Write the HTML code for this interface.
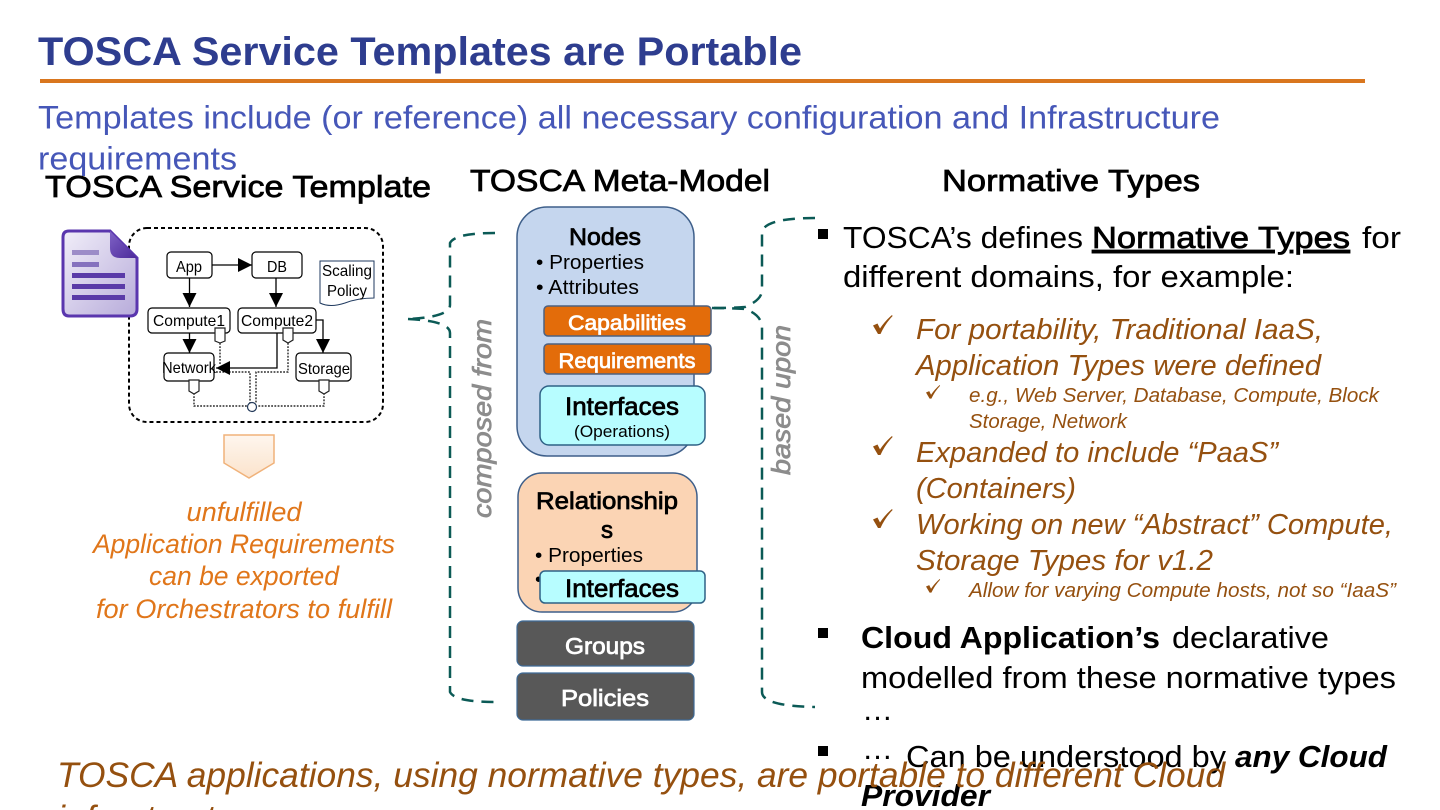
<!DOCTYPE html>
<html lang="en">
<head>
<meta charset="utf-8">
<title>TOSCA Service Templates are Portable</title>
<style>
html,body{margin:0;padding:0;background:#fff;width:1440px;height:810px;overflow:hidden}
svg{display:block}
text{font-family:"Liberation Sans",sans-serif}
.b{font-weight:bold}
.m{font-weight:normal;stroke-width:.75px}
</style>
</head>
<body>
<svg width="1440" height="810" viewBox="0 0 1440 810" xmlns="http://www.w3.org/2000/svg">
<defs>
<marker id="ah" markerUnits="userSpaceOnUse" markerWidth="16" markerHeight="16" refX="14" refY="7" orient="auto"><path d="M0,0L14,7L0,14Z" fill="#000"/></marker>
<linearGradient id="doc" x1="0" y1="0" x2="1" y2="1"><stop offset="0" stop-color="#F1EEF9"/><stop offset="1" stop-color="#B7ABDA"/></linearGradient>
<linearGradient id="fold" x1="0" y1="0" x2="1" y2="1"><stop offset="0" stop-color="#7F62C6"/><stop offset="1" stop-color="#4C2A9A"/></linearGradient>
<linearGradient id="ar" x1="0" y1="0" x2="0" y2="1"><stop offset="0" stop-color="#FEF6EE"/><stop offset="1" stop-color="#FBE3CC"/></linearGradient>
<path id="ck" d="M0,10.5L4.5,8.5L7,13.5Q12,6 19,0L19.6,1Q12,9 7.5,19L5,19Z" fill="#95500F"/>
</defs>

<!-- Header -->
<text x="38" y="65" class="b" font-size="40" fill="#2E3D8F" textLength="764" lengthAdjust="spacingAndGlyphs">TOSCA Service Templates are Portable</text>
<rect x="40" y="79" width="1325" height="4" fill="#D9761E"/>
<text x="38" y="128.5" font-size="32" fill="#4657B8" textLength="1182" lengthAdjust="spacingAndGlyphs">Templates include (or reference) all necessary configuration and Infrastructure</text>
<text x="38" y="169.5" font-size="32" fill="#4657B8" textLength="199" lengthAdjust="spacingAndGlyphs">requirements</text>

<!-- Column headers -->
<text x="45" y="197" class="m" font-size="31" fill="#000" stroke="#000" textLength="386" lengthAdjust="spacingAndGlyphs">TOSCA Service Template</text>
<text x="470" y="191" class="m" font-size="31" fill="#000" stroke="#000" textLength="300" lengthAdjust="spacingAndGlyphs">TOSCA Meta-Model</text>
<text x="942" y="191" class="m" font-size="31" fill="#000" stroke="#000" textLength="258" lengthAdjust="spacingAndGlyphs">Normative Types</text>

<!-- Service template container -->
<rect x="129" y="228" width="254" height="194" rx="18" fill="#fff" stroke="#000" stroke-width="2" stroke-dasharray="4 3"/>

<!-- Document icon -->
<path d="M69,231H110L137,258V309Q137,316 130,316H69Q63,316 63,309V237Q63,231 69,231Z" fill="url(#doc)" stroke="#5A36AE" stroke-width="3"/>
<path d="M110,231L137,258H120Q110,258 110,248Z" fill="url(#fold)"/>
<rect x="72" y="250" width="27" height="5" fill="#9C8CC8"/>
<rect x="72" y="262" width="27" height="5" fill="#8571BE"/>
<rect x="72" y="273" width="53" height="5" fill="#5A3AA8"/>
<rect x="72" y="284" width="53" height="5" fill="#5A3AA8"/>
<rect x="72" y="295" width="53" height="5" fill="#5A3AA8"/>

<!-- Topology connectors -->
<g fill="none" stroke="#000" stroke-width="1.3">
<path d="M212,265H252" marker-end="url(#ah)"/>
<path d="M189.5,278V307" marker-end="url(#ah)"/>
<path d="M276,278V307" marker-end="url(#ah)"/>
<path d="M189.5,333V353" marker-end="url(#ah)"/>
<path d="M316,320H323V353" marker-end="url(#ah)"/>
<path d="M277,333V368H216" marker-end="url(#ah)"/>
</g>
<g fill="none" stroke="#000" stroke-width="1.2" stroke-dasharray="1.8 1.4">
<path d="M220,343V364"/>
<path d="M288,343V372H256V403"/>
<path d="M216,372H250V403"/>
<path d="M194,393V406H247"/>
<path d="M324,393V406H257"/>
</g>
<circle cx="252" cy="407" r="4.5" fill="#fff" stroke="#243A5A" stroke-width="1.2"/>

<!-- Topology nodes -->
<g fill="#fff" stroke="#000" stroke-width="1.2">
<rect x="167" y="252" width="45" height="26" rx="4"/>
<rect x="252" y="252" width="50" height="26" rx="4"/>
<rect x="148" y="308" width="82" height="25" rx="4"/>
<rect x="238" y="308" width="78" height="25" rx="4"/>
<rect x="164" y="353" width="50" height="28" rx="4"/>
<rect x="296" y="353" width="55" height="28" rx="4"/>
<path d="M320,261H374V298Q358,298 345,303Q330,308 320,303Z" stroke="#1F3A5F" stroke-width="1"/>
<path d="M215,328H225V341L220,343L215,341Z" stroke="#222"/>
<path d="M283,328H293V340L288,343L283,340Z" stroke="#222"/>
<path d="M189,380H199V391L194,394L189,391Z" stroke="#222"/>
<path d="M319,380H329V391L324,394L319,391Z" stroke="#222"/>
</g>
<g font-size="16" fill="#000">
<text x="176" y="272" textLength="26" lengthAdjust="spacingAndGlyphs">App</text>
<text x="267" y="272" textLength="20" lengthAdjust="spacingAndGlyphs">DB</text>
<text x="153" y="326" textLength="72" lengthAdjust="spacingAndGlyphs">Compute1</text>
<text x="241" y="326" textLength="72" lengthAdjust="spacingAndGlyphs">Compute2</text>
<text x="162" y="373" textLength="54" lengthAdjust="spacingAndGlyphs">Network</text>
<text x="298" y="374" textLength="52" lengthAdjust="spacingAndGlyphs">Storage</text>
<text x="322" y="276" textLength="50" lengthAdjust="spacingAndGlyphs">Scaling</text>
<text x="327" y="296" textLength="40" lengthAdjust="spacingAndGlyphs">Policy</text>
</g>

<!-- Down arrow -->
<path d="M224,435H274V463L249,478L224,463Z" fill="url(#ar)" stroke="#F0B27A" stroke-width="1.5"/>

<!-- Orange text -->
<g font-size="26.5" fill="#E0761A" font-style="italic" text-anchor="middle">
<text x="244" y="521" textLength="115" lengthAdjust="spacingAndGlyphs">unfulfilled</text>
<text x="244" y="553" textLength="302" lengthAdjust="spacingAndGlyphs">Application Requirements</text>
<text x="244" y="585" textLength="190" lengthAdjust="spacingAndGlyphs">can be exported</text>
<text x="244" y="618" textLength="296" lengthAdjust="spacingAndGlyphs">for Orchestrators to fulfill</text>
</g>

<!-- Brackets -->
<g fill="none" stroke="#0B5A56" stroke-width="2.5" stroke-dasharray="12 8">
<path d="M495,233Q455,233 450,243V305Q450,317 408,319"/>
<path d="M408,319Q450,321 450,333V692Q455,702 495,702"/>
<path d="M815,218Q765,218 762,232V290Q762,300 745,307Q730,308 712,308"/>
<path d="M712,308Q730,308 745,309Q762,315 762,328V692Q762,706 815,707"/>
</g>

<!-- Side labels -->
<text transform="translate(491,518) rotate(-90)" class="m" font-size="26" font-style="italic" fill="#8C8C8C" stroke="#8C8C8C" textLength="199" lengthAdjust="spacingAndGlyphs">composed from</text>
<text transform="translate(790,475) rotate(-90)" class="m" font-size="26" font-style="italic" fill="#8C8C8C" stroke="#8C8C8C" textLength="150" lengthAdjust="spacingAndGlyphs">based upon</text>

<!-- Nodes -->
<rect x="517" y="207" width="177" height="249" rx="30" fill="#C5D6EE" stroke="#3E5F8A" stroke-width="1.5"/>
<text x="605" y="245" class="m" font-size="24" fill="#000" stroke="#000" text-anchor="middle" textLength="72" lengthAdjust="spacingAndGlyphs">Nodes</text>
<text x="536" y="269" font-size="20.5" fill="#000" textLength="108" lengthAdjust="spacingAndGlyphs">• Properties</text>
<text x="536" y="294" font-size="20.5" fill="#000" textLength="103" lengthAdjust="spacingAndGlyphs">• Attributes</text>
<rect x="544" y="306" width="167" height="30" rx="4" fill="#E36C0A" stroke="#4D6180" stroke-width="1.5"/>
<text x="627" y="330" class="m" font-size="21.5" fill="#fff" stroke="#fff" text-anchor="middle" textLength="118" lengthAdjust="spacingAndGlyphs">Capabilities</text>
<rect x="544" y="344" width="167" height="30" rx="4" fill="#E36C0A" stroke="#4D6180" stroke-width="1.5"/>
<text x="627" y="368" class="m" font-size="21.5" fill="#fff" stroke="#fff" text-anchor="middle" textLength="137" lengthAdjust="spacingAndGlyphs">Requirements</text>
<rect x="540" y="386" width="165" height="59" rx="9" fill="#B7FDFF" stroke="#2F6286" stroke-width="1.5"/>
<text x="622" y="415" class="m" font-size="25" fill="#000" stroke="#000" text-anchor="middle" textLength="114" lengthAdjust="spacingAndGlyphs">Interfaces</text>
<text x="622" y="437" font-size="17" fill="#000" text-anchor="middle" textLength="96" lengthAdjust="spacingAndGlyphs">(Operations)</text>

<!-- Relationships -->
<rect x="518" y="473" width="179" height="139" rx="24" fill="#FBD4B4" stroke="#3E5F8A" stroke-width="1.5"/>
<text x="607" y="509" class="m" font-size="24" fill="#000" stroke="#000" text-anchor="middle" textLength="142" lengthAdjust="spacingAndGlyphs">Relationship</text>
<text x="607" y="538" class="m" font-size="24" fill="#000" stroke="#000" text-anchor="middle">s</text>
<text x="535" y="562" font-size="20.5" fill="#000" textLength="108" lengthAdjust="spacingAndGlyphs">• Properties</text>
<text x="535" y="586" font-size="20.5" fill="#000">•</text>
<rect x="540" y="571" width="165" height="32" rx="5" fill="#B7FDFF" stroke="#2F6286" stroke-width="1.5"/>
<text x="622" y="597" class="m" font-size="25" fill="#000" stroke="#000" text-anchor="middle" textLength="114" lengthAdjust="spacingAndGlyphs">Interfaces</text>

<!-- Groups / Policies -->
<rect x="517" y="621" width="177" height="45" rx="6" fill="#585858" stroke="#3E6A96" stroke-width="1.2"/>
<text x="605" y="654" class="m" font-size="23.5" fill="#fff" stroke="#fff" text-anchor="middle" textLength="80" lengthAdjust="spacingAndGlyphs">Groups</text>
<rect x="517" y="673" width="177" height="47" rx="6" fill="#585858" stroke="#3E6A96" stroke-width="1.2"/>
<text x="605" y="706" class="m" font-size="23.5" fill="#fff" stroke="#fff" text-anchor="middle" textLength="88" lengthAdjust="spacingAndGlyphs">Policies</text>

<!-- Right column -->
<rect x="818" y="229" width="10" height="10" fill="#000"/>
<text x="843" y="248" font-size="31" fill="#000" textLength="240" lengthAdjust="spacingAndGlyphs">TOSCA’s defines</text>
<text x="1092" y="248" class="m" font-size="31" fill="#000" stroke="#000" text-decoration="underline" textLength="258" lengthAdjust="spacingAndGlyphs">Normative Types</text>
<text x="1362" y="248" font-size="31" fill="#000" textLength="39" lengthAdjust="spacingAndGlyphs">for</text>
<text x="843" y="287" font-size="31" fill="#000" textLength="451" lengthAdjust="spacingAndGlyphs">different domains, for example:</text>

<use href="#ck" transform="translate(873,315)"/>
<use href="#ck" transform="translate(926,385) scale(.72)"/>
<use href="#ck" transform="translate(873,436)"/>
<use href="#ck" transform="translate(873,509)"/>
<use href="#ck" transform="translate(926,579) scale(.72)"/>

<g font-style="italic" fill="#95500F">
<text x="916" y="339" font-size="28.5" textLength="407" lengthAdjust="spacingAndGlyphs">For portability, Traditional IaaS,</text>
<text x="916" y="375" font-size="28.5" textLength="405" lengthAdjust="spacingAndGlyphs">Application Types were defined</text>
<text x="969" y="402" font-size="20.5" textLength="410" lengthAdjust="spacingAndGlyphs">e.g., Web Server, Database, Compute, Block</text>
<text x="969" y="428" font-size="20.5" textLength="158" lengthAdjust="spacingAndGlyphs">Storage, Network</text>
<text x="916" y="462" font-size="28.5" textLength="362" lengthAdjust="spacingAndGlyphs">Expanded to include “PaaS”</text>
<text x="916" y="498" font-size="28.5" textLength="160" lengthAdjust="spacingAndGlyphs">(Containers)</text>
<text x="916" y="534" font-size="28.5" textLength="477" lengthAdjust="spacingAndGlyphs">Working on new “Abstract” Compute,</text>
<text x="916" y="570" font-size="28.5" textLength="297" lengthAdjust="spacingAndGlyphs">Storage Types for v1.2</text>
<text x="969" y="597" font-size="20.5" textLength="427" lengthAdjust="spacingAndGlyphs">Allow for varying Compute hosts, not so “IaaS”</text>
</g>

<rect x="818" y="628" width="10" height="10" fill="#000"/>
<text x="861" y="648" class="b" font-size="31" fill="#000" textLength="299" lengthAdjust="spacingAndGlyphs">Cloud Application’s</text>
<text x="1172" y="648" font-size="31" fill="#000" textLength="157" lengthAdjust="spacingAndGlyphs">declarative</text>
<text x="861" y="688" font-size="31" fill="#000" textLength="535" lengthAdjust="spacingAndGlyphs">modelled from these normative types</text>
<text x="862" y="720" font-size="31" fill="#000" textLength="28" lengthAdjust="spacing">…</text>

<rect x="818" y="746" width="10" height="10" fill="#000"/>
<text x="862" y="759" font-size="31" fill="#000" textLength="28" lengthAdjust="spacing">…</text>
<text x="906" y="767" font-size="31" fill="#000" textLength="320" lengthAdjust="spacingAndGlyphs">Can be understood by</text>
<text x="1235" y="767" class="b" font-size="31" font-style="italic" fill="#000" textLength="152" lengthAdjust="spacingAndGlyphs">any Cloud</text>
<text x="861" y="806" class="b" font-size="31" font-style="italic" fill="#000" textLength="129" lengthAdjust="spacingAndGlyphs">Provider</text>

<!-- Footer -->
<text x="57" y="787" font-size="35.5" font-style="italic" fill="#95500F" textLength="1168" lengthAdjust="spacingAndGlyphs">TOSCA applications, using normative types, are portable to different Cloud</text>
<text x="57" y="830" font-size="35.5" font-style="italic" fill="#95500F" textLength="228" lengthAdjust="spacingAndGlyphs">infrastructures</text>
</svg>
</body>
</html>
